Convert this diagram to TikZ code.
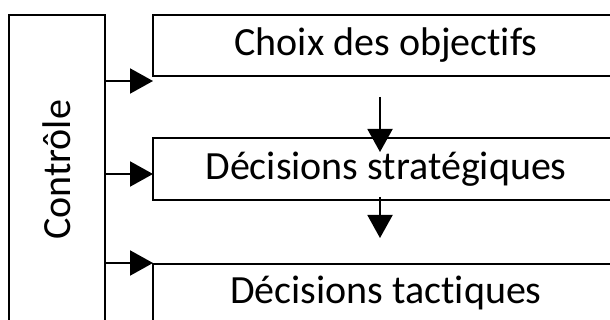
\documentclass[tikz,border=0pt]{standalone}
\usepackage{fontspec}
\setmainfont{Carlito}[Ligatures=NoCommon]
\usetikzlibrary{arrows.meta}
\tikzset{boite/.style={draw, line width=2pt, inner sep=0pt, font=\fontsize{40}{48}\selectfont}}
\newcommand{\ctboite}[5] {\node at (#1) (#2) [boite, minimum width=#3, minimum height=#4] {#5};}
\newcommand{\ctfleche}[2] {\draw [line width=2pt, -{Triangle[length=23pt, width=25pt]}] (#1) -- (#2);}

\begin{document}
\begin{tikzpicture}[x=1pt, y=-1pt]
\clip (0,0) rectangle (610,320);
\node at (57,170) (ctrl) [boite, rotate=90, minimum width=310pt, minimum height=96pt] {Contr\^ole};
\ctboite {386,45.5} {choix} {466pt} {61pt} {Choix des objectifs};
\ctboite {386,169} {strat} {466pt} {62pt} {Décisions stratégiques};
\node at (386,304) (tact) [boite, minimum width=466pt, text height=39pt, text depth=41pt] {Décisions tactiques};

\coordinate (e1) at (153,81);
\coordinate (e2) at (153,174);
\coordinate (e3) at (153,263);
\coordinate (d1) at (380,97);
\coordinate (a1) at (380,152);
\coordinate (d2) at (380,197);
\coordinate (a2) at (380,238);

\ctfleche{ctrl.south |- e1}{e1};
\ctfleche{ctrl.south |- e2}{e2};
\ctfleche{ctrl.south |- e3}{e3};
\ctfleche{d1}{a1};
\ctfleche{d2}{a2};
%\ctfleche{choix}{strat};
\end{tikzpicture}
\end{document}
